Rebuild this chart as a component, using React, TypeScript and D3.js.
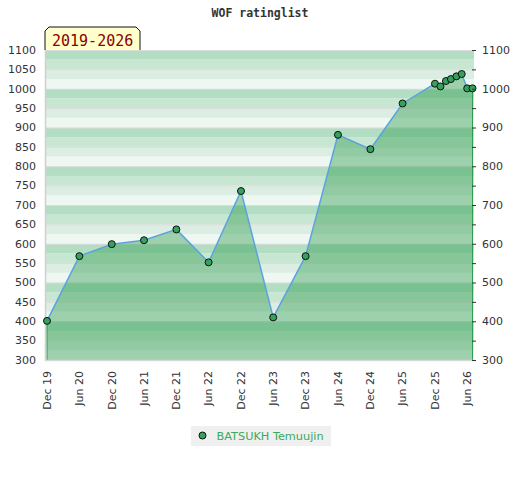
import React from "react";
import * as d3 from "d3";

const dates = [
  "2019-12-01", "2020-06-01", "2020-12-01", "2021-06-01", "2021-12-01",
  "2022-06-01", "2022-12-01", "2023-06-01", "2023-12-01", "2024-06-01",
  "2024-12-01", "2025-06-01", "2025-12-01", "2026-01-01", "2026-02-01",
  "2026-03-01", "2026-04-01", "2026-05-01", "2026-06-01", "2026-07-01",
];
const ratings = [
  401, 568, 599, 609, 637, 552, 736, 410, 568, 881,
  844, 962, 1013, 1006, 1020, 1025, 1032, 1038, 1001, 1001,
];
const leftTicks = d3.range(300, 1101, 50);
const rightTicks = d3.range(300, 1101, 100);
const tickDates = [
  "2019-12-01", "2020-06-01", "2020-12-01", "2021-06-01", "2021-12-01",
  "2022-06-01", "2022-12-01", "2023-06-01", "2023-12-01", "2024-06-01",
  "2024-12-01", "2025-06-01", "2025-12-01", "2026-06-01",
];
const title = "WOF ratinglist";
const periodLabel = "2019-2026";
const seriesName = "BATSUKH Temuujin";
const stripeColors = ["#eef7f2", "#dceee3", "#c8e7d3", "#b3dec4"];

const parse = d3.utcParse("%Y-%m-%d");

export default function App() {
  const left = 46, right = 474, top = 50, bottom = 360;
  const x = d3.scaleUtc()
    .domain([parse(dates[0])!, parse(dates[dates.length - 1])!])
    .range([47, 472.5]);
  const y = d3.scaleLinear().domain([300, 1100]).range([bottom, top]);
  const data = dates.map((d, i) => ({ date: parse(d)!, v: ratings[i] }));

  const line = d3.line<{ date: Date; v: number }>().x(d => x(d.date)).y(d => y(d.v));
  const area = d3.area<{ date: Date; v: number }>().x(d => x(d.date)).y0(bottom).y1(d => y(d.v));

  const stripes = d3.range(300, 1100, 25).map(v => ({
    v,
    color: stripeColors[((v % 100) / 25) | 0],
  }));
  const fmt = d3.utcFormat("%b %y");
  const sans = "DejaVu Sans, sans-serif";
  const mono = "DejaVu Sans Mono, monospace";
  const first = data[0], last = data[data.length - 1];

  return (
    <svg width={520} height={480} style={{ position: "absolute", left: 0, top: 0, background: "#fff" }}>
      <text x={260} y={17} textAnchor="middle" fontFamily={mono} fontWeight="bold" fontSize={11.5} fill="#333">
        {title}
      </text>
      {stripes.map(s => (
        <rect key={s.v} x={left} width={right - left} y={y(s.v + 25)} height={y(s.v) - y(s.v + 25)} fill={s.color} />
      ))}
      {leftTicks.map(t => (
        <line key={"g" + t} x1={left} x2={right} y1={y(t) + 0.5} y2={y(t) + 0.5} stroke="#dcdcdc" strokeWidth={1} />
      ))}
      <path d={area(data)!} fill="rgb(36,150,67)" fillOpacity={0.4} />
      <line x1={x(first.date)} x2={x(first.date)} y1={y(first.v)} y2={bottom} stroke="#2e9e4f" strokeWidth={1} />
      <line x1={x(last.date)} x2={x(last.date)} y1={y(last.v)} y2={bottom} stroke="#2e9e4f" strokeWidth={1} />
      <line x1={left - 0.5} x2={left - 0.5} y1={top} y2={bottom + 1} stroke="#d0d0d0" strokeWidth={1.5} />
      <line x1={left - 1} x2={right + 1} y1={bottom + 0.5} y2={bottom + 0.5} stroke="#d8d8d8" strokeWidth={1.5} />
      <path d={line(data)!} fill="none" stroke="#5ba3e0" strokeWidth={1.5} />
      {data.map((d, i) => (
        <circle key={i} cx={x(d.date)} cy={y(d.v)} r={3.5} fill="#34a15c" stroke="#111" strokeWidth={1} />
      ))}
      {leftTicks.map(t => (
        <text key={"l" + t} x={36} y={y(t)} dy="0.35em" textAnchor="end" fontFamily={sans} fontSize={11} fill="#333">
          {t}
        </text>
      ))}
      {leftTicks.map(t => (
        <line key={"rt" + t} x1={472} x2={476} y1={y(t) + 0.5} y2={y(t) + 0.5} stroke="#333" strokeWidth={1} />
      ))}
      {rightTicks.map(t => (
        <text key={"r" + t} x={482} y={y(t)} dy="0.35em" textAnchor="start" fontFamily={sans} fontSize={11} fill="#333">
          {t}
        </text>
      ))}
      {tickDates.map(td => {
        const d = parse(td)!;
        const px = x(d);
        return (
          <text key={td} transform={`translate(${px},371) rotate(-90)`} dy="0.35em" textAnchor="end"
            fontFamily={sans} fontSize={11} fill="#333">
            {fmt(d)}
          </text>
        );
      })}
      <path d="M45,50 L45,31 L49,27 L136,27 L140,31 L140,50" fill="#ffffcc" stroke="#111" strokeWidth={1} />
      <text x={52} y={46} fontFamily={mono} fontSize={15} fill="#8b0000">{periodLabel}</text>
      <rect x={191} y={426} width={140} height={20} fill="#f0f0f0" />
      <circle cx={202.5} cy={435.5} r={3.5} fill="#34a15c" stroke="#111" strokeWidth={1} />
      <text x={216.5} y={436} dy="0.35em" fontFamily={sans} fontSize={11.3} fill="#3aaa5e">{seriesName}</text>
    </svg>
  );
}
